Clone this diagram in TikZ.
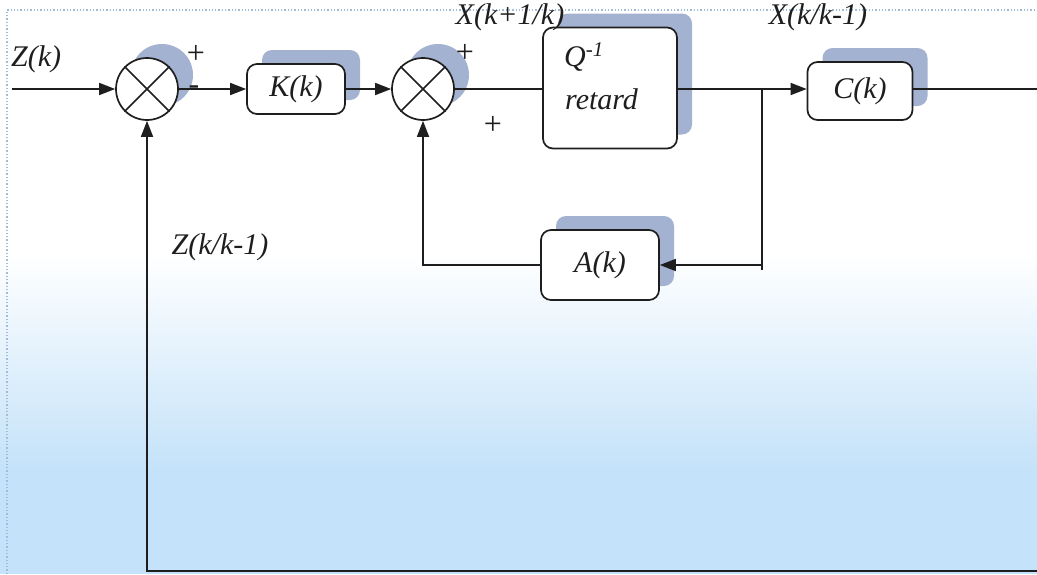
\documentclass[tikz,border=0pt]{standalone}
\usepackage{fontspec}
\setmainfont{Liberation Serif}
\usetikzlibrary{arrows.meta,calc,shadows}
\definecolor{shad}{RGB}{163,178,209}
\definecolor{bgblue}{RGB}{196,226,249}
\definecolor{dotc}{RGB}{160,188,215}
\definecolor{ink}{RGB}{30,30,30}
\begin{document}
\begin{tikzpicture}[x=1pt,y=-1pt,
  lbl/.style={font=\fontsize{30}{33}\selectfont\itshape, inner sep=0pt, text=ink},
  sgn/.style={font=\fontsize{32}{34}\selectfont, inner sep=0pt, text=ink},
  sh/.style={drop shadow={shadow xshift=15pt, shadow yshift=14pt, fill=shad, opacity=1}},
  blk/.style={draw=ink, line width=1.7pt, rounded corners=10pt, fill=white, sh,
    font=\fontsize{30}{33}\selectfont\itshape, text=ink},
  sum/.style={circle, draw=ink, line width=1.7pt, fill=white, minimum size=62pt, inner sep=0pt, sh},
  ln/.style={draw=ink, line width=1.7pt},
  arr/.style={ln, -{Triangle[length=16pt,width=12pt]}}]
\useasboundingbox (0,0) rectangle (1037,574);
% background
\fill[white] (0,0) rectangle (1037,255);
\shade[top color=white, bottom color=bgblue] (0,254) rectangle (1037,470);
\fill[bgblue] (0,469) rectangle (1037,574);
\draw[dotc, dotted, line width=1.3pt] (7,574) -- (7,10) -- (1037,10);
% blocks
\node[sum] (S1) at (147,89) {};
\node[sum] (S2) at (423,89) {};
\foreach \s in {S1,S2}{
  \draw[ln] (\s.45) -- (\s.225);
  \draw[ln] (\s.135) -- (\s.-45);
}
\node[blk, minimum width=98pt, minimum height=50pt] (K) at (296,89) {K(k)};
\node[blk, minimum width=134pt, minimum height=121pt] (Q) at (610,88) {};
\node[lbl, anchor=west] (Qt) at (564,57) {Q\textsuperscript{-1}};
\node[lbl, anchor=west] (Rt) at (565,99) {retard};
\node[blk, minimum width=105pt, minimum height=58pt] (C) at (860,91) {C(k)};
\node[blk, minimum width=118pt, minimum height=70pt] (A) at (600,265) {A(k)};
% coordinates
\coordinate (in) at (12,89);
\coordinate (br) at (762,89);
\coordinate (brb) at (762,270);
\coordinate (out) at (1037,89);
\coordinate (fbR) at (1037,571);
\coordinate (fbL) at (147,571);
% connectors
\draw[arr] (in) -- (S1.west);
\draw[arr] (S1.east) -- (K.west);
\draw[arr] (K.east) -- (S2.west);
\draw[ln] (S2.east) -- (S2.east -| Q.west);
\draw[arr] (Q.east |- br) -- (br -| C.west);
\draw[ln] (br) -- (brb);
\draw[arr] (A.east -| br) -- (A.east);
\draw[arr] (A.west) -| (S2.south);
\draw[ln] (C.east |- out) -- (out);
\draw[arr] (fbR) -- (fbL) -- (S1.south);
% labels
\node[lbl, anchor=west] (Zk) at (11,59) {Z(k)};
\node[sgn] (p1) at (196,54) {+};
\node[sgn] (m1) at (194,90) {-};
\node[lbl] (Xk1) at (510,17) {X(k+1/k)};
\node[sgn] (p2) at (465,53) {+};
\node[sgn] (p3) at (493,125) {+};
\node[lbl] (Xkk) at (818,17) {X(k/k-1)};
\node[lbl] (Zkk) at (220,247) {Z(k/k-1)};
\end{tikzpicture}
\end{document}
